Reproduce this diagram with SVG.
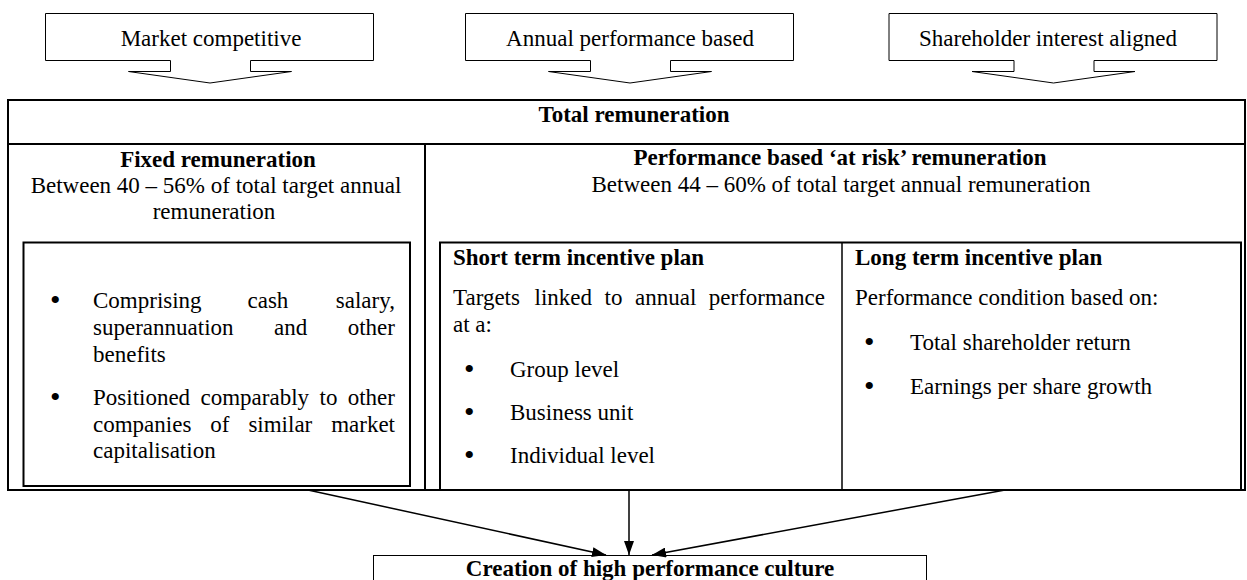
<svg xmlns="http://www.w3.org/2000/svg" xmlns:xlink="http://www.w3.org/1999/xlink" width="1247" height="580" viewBox="0 0 1247 580">
  <style>
    text { font-family: "Liberation Serif", "Times New Roman", serif; font-size: 23px; fill: #000; }
    .b { font-weight: bold; }
    .c { text-anchor: middle; }
    .e { text-anchor: end; }
    .dot { font-size: 30px; }
    .thin { fill: #fff; stroke: #000; stroke-width: 1; }
    .box { fill: none; stroke: #000; stroke-width: 2; }
    .rule { fill: none; stroke: #000; stroke-width: 1.5; }
    .conn { fill: none; stroke: #000; stroke-width: 1.5; }
  </style>
  <defs>
    <!-- down-arrow callout shape -->
    <path id="callout" d="M45.5,13.5 H373.5 V60.5 H250.5 V71.5 H291.5 L210,83 L128.5,71.5 H170.5 V60.5 H45.5 Z"/>
    <marker id="head" viewBox="0 0 14 10" refX="14" refY="5" markerWidth="14" markerHeight="10" markerUnits="userSpaceOnUse" orient="auto">
      <path d="M0,0 L14,5 L0,10 Z" fill="#000"/>
    </marker>
  </defs>
  <rect width="1247" height="580" fill="#fff"/>

  <!-- principle callouts -->
  <g id="market">
    <use xlink:href="#callout" class="thin"/>
    <text x="211" y="46" class="c">Market competitive</text>
  </g>
  <g id="annual">
    <use xlink:href="#callout" class="thin" transform="translate(420,0)"/>
    <text x="630" y="46" class="c">Annual performance based</text>
  </g>
  <g id="shareholder">
    <use xlink:href="#callout" class="thin" transform="translate(843.5,0)"/>
    <text x="1048" y="46" class="c">Shareholder interest aligned</text>
  </g>

  <!-- total remuneration frame -->
  <g id="total">
    <rect x="8" y="100" width="1237" height="390" class="box"/>
    <line x1="8" y1="144" x2="1245" y2="144" class="box"/>
    <line x1="425" y1="144" x2="425" y2="490" class="box"/>
    <text x="634" y="122" class="b c">Total remuneration</text>
  </g>

  <!-- fixed remuneration -->
  <g id="fixed">
    <text x="218" y="167" class="b c">Fixed remuneration</text>
    <text x="216" y="193" class="c">Between 40 – 56% of total target annual</text>
    <text x="214" y="219" class="c">remuneration</text>
    <rect x="23.5" y="242.5" width="386.5" height="243.5" class="box"/>
    <text x="50" y="310" class="dot">•</text>
    <text y="308"><tspan x="93">Comprising</tspan><tspan x="247.5">cash</tspan><tspan x="395" class="e">salary,</tspan></text>
    <text y="335"><tspan x="93">superannuation</tspan><tspan x="274">and</tspan><tspan x="395" class="e">other</tspan></text>
    <text x="93" y="362">benefits</text>
    <text x="50" y="407" class="dot">•</text>
    <text y="405"><tspan x="93">Positioned</tspan><tspan x="200.5">comparably</tspan><tspan x="319.5">to</tspan><tspan x="395" class="e">other</tspan></text>
    <text y="432"><tspan x="93">companies</tspan><tspan x="210.3">of</tspan><tspan x="248.4">similar</tspan><tspan x="395" class="e">market</tspan></text>
    <text x="93" y="458">capitalisation</text>
  </g>

  <!-- performance based remuneration -->
  <g id="performance">
    <text x="840" y="165" class="b c">Performance based ‘at risk’ remuneration</text>
    <text x="841" y="192" class="c">Between 44 – 60% of total target annual remuneration</text>
    <rect x="440" y="242.5" width="801" height="247.5" class="box"/>
  </g>

  <g id="short-term">
    <line x1="842" y1="242.5" x2="842" y2="490" class="rule"/>
    <text x="453" y="265" class="b">Short term incentive plan</text>
    <text y="305"><tspan x="453">Targets</tspan><tspan x="534.5">linked</tspan><tspan x="604.5">to</tspan><tspan x="635">annual</tspan><tspan x="825" class="e">performance</tspan></text>
    <text x="453" y="332">at a:</text>
    <text x="464" y="379" class="dot">•</text>
    <text x="510" y="377">Group level</text>
    <text x="464" y="422" class="dot">•</text>
    <text x="510" y="420">Business unit</text>
    <text x="464" y="465" class="dot">•</text>
    <text x="510" y="463">Individual level</text>
  </g>

  <g id="long-term">
    <text x="855" y="265" class="b">Long term incentive plan</text>
    <text x="855" y="305">Performance condition based on:</text>
    <text x="864" y="352" class="dot">•</text>
    <text x="910" y="350">Total shareholder return</text>
    <text x="864" y="396" class="dot">•</text>
    <text x="910" y="394">Earnings per share growth</text>
  </g>

  <!-- outcome -->
  <g id="culture">
    <rect x="373.5" y="555.5" width="553" height="40" class="thin"/>
    <text x="650" y="576" class="b c">Creation of high performance culture</text>
  </g>

  <!-- connectors -->
  <g id="connectors">
    <line x1="308" y1="490" x2="606" y2="555" class="conn" marker-end="url(#head)"/>
    <line x1="629" y1="490" x2="629" y2="555" class="conn" marker-end="url(#head)"/>
    <line x1="1005" y1="490" x2="652" y2="555" class="conn" marker-end="url(#head)"/>
  </g>
</svg>
